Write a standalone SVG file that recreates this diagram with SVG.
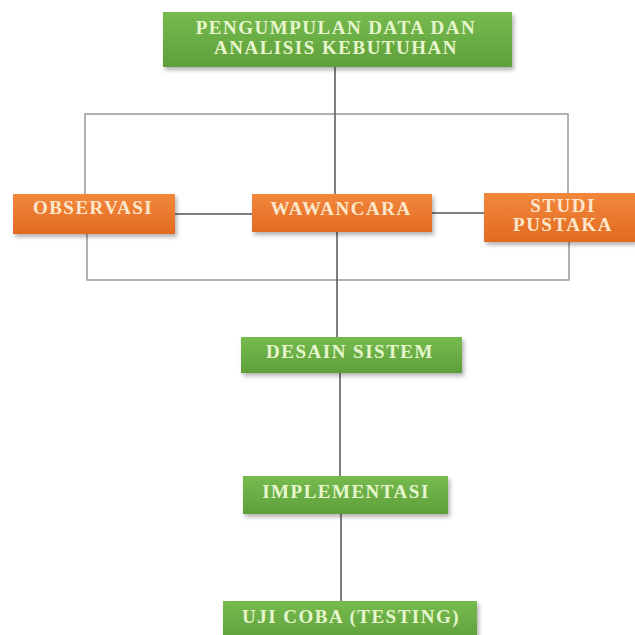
<svg xmlns="http://www.w3.org/2000/svg" width="635" height="635" viewBox="0 0 635 635">
<defs>
<linearGradient id="gG" x1="0" y1="0" x2="0" y2="1">
<stop offset="0" stop-color="#76bb4f"/>
<stop offset="1" stop-color="#5f9f3b"/>
</linearGradient>
<linearGradient id="gO" x1="0" y1="0" x2="0" y2="1">
<stop offset="0" stop-color="#f2883c"/>
<stop offset="1" stop-color="#e26a22"/>
</linearGradient>
<filter id="sh" x="-10%" y="-20%" width="125%" height="150%">
<feDropShadow dx="2" dy="3" stdDeviation="2" flood-color="#000" flood-opacity="0.3"/>
</filter>
<style>
.g{fill:url(#gG);filter:url(#sh)}
.o{fill:url(#gO);filter:url(#sh)}
text{font-family:"Liberation Serif","Times New Roman",serif;font-weight:bold;font-size:19px;letter-spacing:1.5px;text-anchor:middle}
.tg{fill:#e6f6cc}
.to{fill:#fde7cc}
.ln{stroke:#555;stroke-width:1.5;fill:none}
.lb{stroke:#999;stroke-width:1.5;fill:none}
</style>
</defs>
<g id="connectors">
<path class="lb" d="M85,195 V114 H568 V193"/>
<path class="lb" d="M87,234 V280 H569 V242"/>
<path class="ln" d="M335,67 V194"/>
<path class="ln" d="M175,214 H252"/>
<path class="ln" d="M415,213 H484"/>
<path class="ln" d="M337,232 V337"/>
<path class="ln" d="M340,373 V476"/>
<path class="ln" d="M341,514 V601"/>
</g>
<g id="n-pengumpulan">
<rect class="g" x="163" y="12" width="349" height="55"/>
<text class="tg" x="336" y="34">PENGUMPULAN DATA DAN</text>
<text class="tg" x="336" y="54">ANALISIS KEBUTUHAN</text>
</g>
<g id="n-observasi">
<rect class="o" x="13" y="194" width="162" height="40"/>
<text class="to" x="93" y="214">OBSERVASI</text>
</g>
<g id="n-wawancara">
<rect class="o" x="252" y="194" width="180" height="38"/>
<text class="to" x="341" y="215">WAWANCARA</text>
</g>
<g id="n-studi">
<rect class="o" x="484" y="193" width="151" height="49"/>
<text class="to" x="563" y="212">STUDI</text>
<text class="to" x="563" y="231">PUSTAKA</text>
</g>
<g id="n-desain">
<rect class="g" x="241" y="337" width="221" height="36"/>
<text class="tg" x="350" y="358">DESAIN SISTEM</text>
</g>
<g id="n-implementasi">
<rect class="g" x="243" y="476" width="205" height="38"/>
<text class="tg" x="346" y="498">IMPLEMENTASI</text>
</g>
<g id="n-ujicoba">
<rect class="g" x="223" y="601" width="254" height="40"/>
<text class="tg" x="351" y="623">UJI COBA (TESTING)</text>
</g>
</svg>
